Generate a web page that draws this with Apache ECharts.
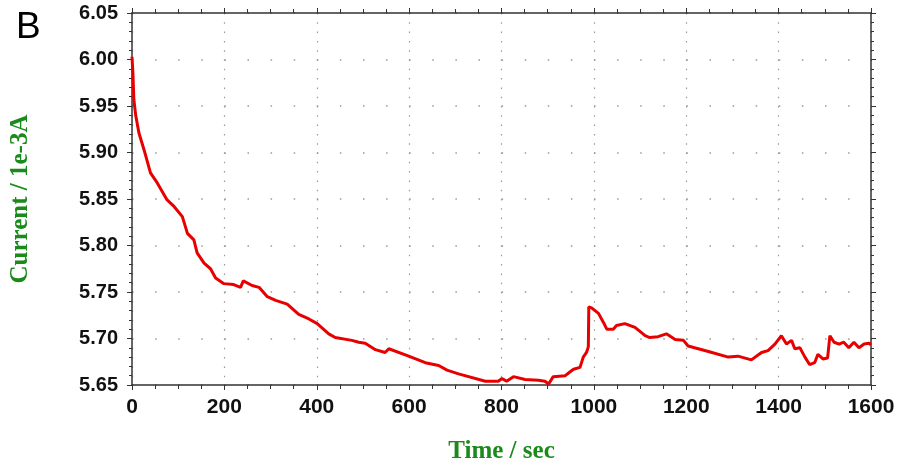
<!DOCTYPE html>
<html>
<head>
<meta charset="utf-8">
<script src="https://cdn.jsdelivr.net/npm/echarts@6/dist/echarts.min.js"></script>
<style>
  html, body { margin: 0; padding: 0; background: #fff; }
  #chart { width: 899px; height: 465px; }
</style>
</head>
<body>
<div id="chart"></div>
<script>
// time in seconds, current in 1e-3 A
const times = [
  0, 2, 4, 8, 15, 26, 40, 55, 76, 91, 109, 120, 134, 141, 156, 170, 181, 199,
  220, 235, 238, 241, 260, 275, 293, 311, 336, 361, 383, 401, 426, 440, 476,
  491, 505, 527, 548, 556, 559, 599, 635, 664, 682, 707, 765, 793, 801, 811,
  826, 851, 880, 894, 902, 905, 912, 938, 948, 956, 970, 977, 984, 988, 989,
  995, 1010, 1021, 1028, 1042, 1049, 1067, 1071, 1089, 1111, 1121, 1139, 1157,
  1176, 1194, 1204, 1248, 1291, 1312, 1341, 1363, 1377, 1392, 1406, 1417, 1428,
  1435, 1446, 1457, 1467, 1478, 1485, 1496, 1506, 1511, 1520, 1531, 1541, 1552,
  1563, 1574, 1585, 1596, 1600
];
const current = [
  6.003, 5.985, 5.957, 5.940, 5.921, 5.903, 5.878, 5.867, 5.849, 5.842, 5.831,
  5.813, 5.806, 5.792, 5.781, 5.775, 5.765, 5.759, 5.758, 5.755, 5.754, 5.762,
  5.757, 5.755, 5.745, 5.741, 5.737, 5.726, 5.721, 5.716, 5.705, 5.701, 5.698,
  5.696, 5.695, 5.688, 5.685, 5.689, 5.688, 5.681, 5.674, 5.671, 5.666, 5.662,
  5.654, 5.654, 5.657, 5.654, 5.659, 5.656, 5.655, 5.654, 5.651, 5.650, 5.659,
  5.660, 5.664, 5.667, 5.669, 5.680, 5.685, 5.691, 5.734, 5.733, 5.727, 5.717,
  5.710, 5.710, 5.714, 5.716, 5.717, 5.712, 5.703, 5.701, 5.702, 5.705, 5.699,
  5.698, 5.692, 5.686, 5.680, 5.681, 5.677, 5.685, 5.687, 5.694, 5.703, 5.694,
  5.698, 5.689, 5.690, 5.680, 5.672, 5.674, 5.683, 5.678, 5.679, 5.703, 5.696,
  5.694, 5.696, 5.690, 5.696, 5.690, 5.694, 5.695, 5.693
];
const xTicks = [0, 200, 400, 600, 800, 1000, 1200, 1400, 1600];
const yTicks = [5.65, 5.70, 5.75, 5.80, 5.85, 5.90, 5.95, 6.00, 6.05];

const green = "#1a8a1a";
const axisColor = "#333";
const numFont = "'Liberation Sans', Arial, sans-serif";
const serifFont = "'Liberation Serif', 'Times New Roman', serif";

const chart = echarts.init(document.getElementById("chart"));

const xBase = {
  type: "value",
  min: xTicks[0],
  max: xTicks[xTicks.length - 1],
  interval: 200,
  axisLine: { show: true, onZero: false, lineStyle: { color: axisColor, width: 1.5 } },
  axisTick: { show: true, inside: false, length: 5, lineStyle: { color: axisColor } },
  minorTick: { show: true, splitNumber: 4, length: 4, lineStyle: { color: axisColor } },
};
const yBase = {
  type: "value",
  min: yTicks[0],
  max: yTicks[yTicks.length - 1],
  interval: 0.05,
  axisLine: { show: true, onZero: false, lineStyle: { color: axisColor, width: 1.5 } },
  axisTick: { show: true, inside: false, length: 5, lineStyle: { color: axisColor } },
  minorTick: { show: true, splitNumber: 5, length: 3, lineStyle: { color: axisColor } },
};

chart.setOption({
  animation: false,
  grid: { left: 132, right: 28, top: 13, bottom: 80, containLabel: false, outerBoundsMode: "none" },
  graphic: [
    {
      type: "text",
      left: 16,
      top: 9,
      style: { text: "B", fontSize: 37, fontFamily: numFont, fill: "#000" },
    },
  ],
  xAxis: [
    Object.assign({}, xBase, {
      position: "bottom",
      name: "Time / sec",
      nameLocation: "middle",
      nameGap: 54,
      nameTextStyle: { color: green, fontSize: 25, fontWeight: "bold", fontFamily: serifFont },
      axisLabel: {
        margin: 12,
        color: "#111",
        fontSize: 21,
        fontWeight: "bold",
        fontFamily: numFont,
        formatter: (v) => String(v),
      },
      splitLine: {
        show: true,
        lineStyle: { color: "#999", width: 1.2, type: [1.5, 7.8] },
      },
    }),
    Object.assign({}, xBase, {
      position: "top",
      axisLabel: { show: false },
      splitLine: { show: false },
    }),
  ],
  yAxis: [
    Object.assign({}, yBase, {
      position: "left",
      name: "Current / 1e-3A",
      nameLocation: "middle",
      nameGap: 99,
      nameTextStyle: { color: green, fontSize: 25, fontWeight: "bold", fontFamily: serifFont },
      axisLabel: {
        margin: 14,
        color: "#111",
        fontSize: 20,
        fontWeight: "bold",
        fontFamily: numFont,
        formatter: (v) => v.toFixed(2),
      },
      splitLine: {
        show: true,
        lineStyle: { color: "#999", width: 1.5, type: [1.5, 21.6] },
      },
    }),
    Object.assign({}, yBase, {
      position: "right",
      axisLabel: { show: false },
      splitLine: { show: false },
    }),
  ],
  series: [
    {
      type: "line",
      data: times.map((t, i) => [t, current[i]]),
      showSymbol: false,
      symbol: "none",
      lineStyle: { color: "#e80000", width: 3 },
      z: 5,
    },
  ],
});
</script>
</body>
</html>
